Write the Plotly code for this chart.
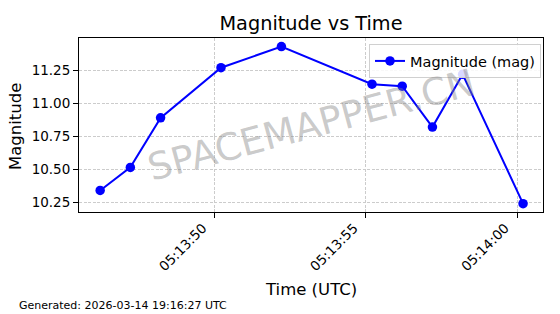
import plotly.graph_objects as go

times = [
    "2026-03-14 05:13:46.2", "2026-03-14 05:13:47.2", "2026-03-14 05:13:48.2",
    "2026-03-14 05:13:50.2", "2026-03-14 05:13:52.2", "2026-03-14 05:13:55.2",
    "2026-03-14 05:13:56.2", "2026-03-14 05:13:57.2", "2026-03-14 05:13:58.2",
    "2026-03-14 05:14:00.2",
]
magnitudes = [10.34, 10.515, 10.89, 11.27, 11.43, 11.145, 11.13, 10.82, 11.22, 10.24]
y_ticks = [10.25, 10.50, 10.75, 11.00, 11.25]
x_range = ["2026-03-14 05:13:45.5", "2026-03-14 05:14:00.86"]
y_range = [10.177, 11.495]

FONT = "DejaVu Sans"
W, H = 560, 314
L, R, T, B = 79, 17, 38, 102
pw, ph = W - L - R, H - T - B

fig = go.Figure()
fig.add_trace(go.Scatter(
    x=times, y=magnitudes, mode="lines+markers", name="Magnitude (mag)",
    line=dict(color="#0000ff", width=2),
    marker=dict(color="#0000ff", size=9.5),
))

axis_common = dict(
    showline=True, mirror=True, linecolor="black", linewidth=1,
    ticks="outside", ticklen=5, tickcolor="black", tickwidth=1,
    showgrid=True, gridcolor="#cccccc", griddash="3px,1.5px", gridwidth=1,
    zeroline=False, tickfont=dict(family=FONT, size=13.5, color="black"),
)

fig.update_layout(
    width=W, height=H,
    margin=dict(l=L, r=R, t=T, b=B),
    paper_bgcolor="white", plot_bgcolor="white",
    font=dict(family=FONT, color="black"),
    title=dict(text="Magnitude vs Time", x=(L + pw / 2) / W, xanchor="center",
               y=1 - 23 / H, yanchor="middle", yref="container",
               font=dict(family=FONT, size=19.3, color="black")),
    xaxis=dict(type="date", range=x_range, tickformat="%H:%M:%S",
               tick0="2026-03-14 05:13:50", dtick=5000, tickangle=-45,
               ticklabelshift=-12, ticklabelstandoff=-3,
               **axis_common),
    yaxis=dict(range=y_range, tickvals=y_ticks, tickformat=".2f", **axis_common),
    legend=dict(x=(541 - L) / pw, y=(T + ph - 44) / ph, xanchor="right", yanchor="top",
                bgcolor="rgba(255,255,255,0.85)", bordercolor="#d0d0d0", borderwidth=1,
                font=dict(family=FONT, size=14.5, color="black")),
    showlegend=True,
)

fig.add_annotation(text="SPACEMAPPER.CN", x=0.5, y=0.5, xref="paper", yref="paper",
                   showarrow=False, textangle=-15,
                   font=dict(family=FONT, size=37.5, color="rgba(128,128,128,0.42)"))
fig.add_annotation(text="Time (UTC)", x=0.5, y=-(289 - (T + ph)) / ph, xref="paper", yref="paper",
                   showarrow=False, xanchor="center", yanchor="middle",
                   font=dict(family=FONT, size=16.5, color="black"))
fig.add_annotation(text="Magnitude", x=-(L - 15) / pw, y=0.5 - (127 - (T + ph / 2)) / ph,
                   xref="paper", yref="paper", showarrow=False, textangle=-90,
                   xanchor="center", yanchor="middle",
                   font=dict(family=FONT, size=16.5, color="black"))
fig.add_annotation(text="Generated: 2026-03-14 19:16:27 UTC", x=-(L - 17) / pw,
                   y=-(305 - (T + ph)) / ph, xref="paper", yref="paper", showarrow=False,
                   xanchor="left", yanchor="middle",
                   font=dict(family=FONT, size=11, color="black"))

fig.write_html("out.html", config={"displayModeBar": False})
